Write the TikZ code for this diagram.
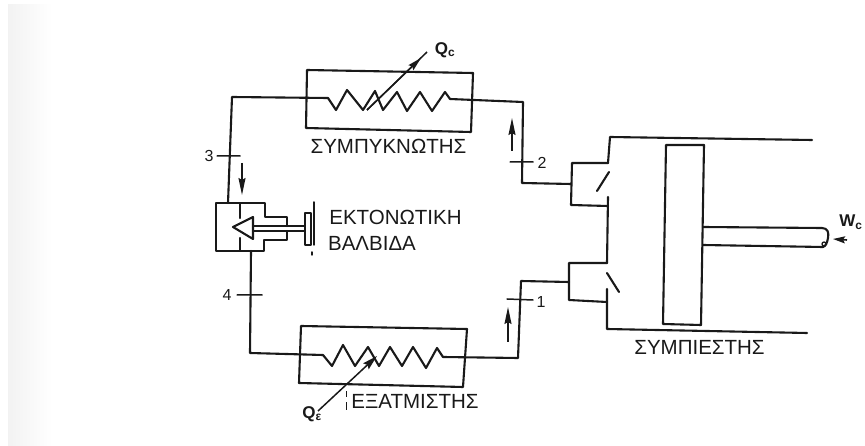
\documentclass[tikz,border=0pt]{standalone}
\usepackage{fontspec}
\setmainfont{Liberation Sans}
\usetikzlibrary{arrows.meta}
\tikzset{
  pipe/.style={draw=inkc,line width=2.1pt,line join=round,line cap=round},
  thin pipe/.style={draw=inkc,line width=1.5pt,line cap=round},
  flow/.style={draw=inkc,line width=1.6pt,-{Stealth[length=17pt,width=7pt,inset=2pt]}},
  heat/.style={draw=inkc,line width=1.5pt},
  caption/.style={inner sep=0pt,text=inkc,font=\fontsize{20.5}{24}\selectfont},
  num/.style={inner sep=0pt,text=inkc,font=\fontsize{16}{18}\selectfont},
  qlabel/.style={inner sep=0pt,text=inkc,font=\bfseries\fontsize{17}{20}\selectfont}
}
\definecolor{inkc}{gray}{0.1}
\begin{document}
\begin{tikzpicture}[x=1pt,y=-1pt]
\useasboundingbox (0,0) rectangle (865,446);
\shade[left color=black!5,right color=white] (8,5) rectangle (52,446);

% condenser
\coordinate (cin) at (450,99);
\coordinate (cout) at (328,98);
\draw[pipe] (307,70) -- (473,73) -- (471,132) -- (306,128) -- cycle;
\draw[pipe] (cout) -- (336,110) -- (347,90) -- (363,110) -- (375,91) -- (383,110) -- (397,92) -- (407,111) -- (420,92) -- (432,111) -- (445,92) -- (cin);
\node[caption] (condtxt) at (388.5,146) {ΣΥΜΠΥΚΝΩΤΗΣ};
\coordinate (qcs) at (367,110);
\coordinate (qce) at (427,52);
\draw[heat] (qcs) -- (qce);
\draw[heat,-{Stealth[length=14pt,width=7pt,inset=2pt]}] (qcs) -- (421,58);
\node[qlabel] (qc) at (445,50) {Q\textsubscript{c}};

% evaporator
\coordinate (ein) at (323,355);
\coordinate (eout) at (443,357);
\draw[pipe] (301,326) -- (467,329) -- (463,387) -- (299,383) -- cycle;
\draw[pipe] (ein) -- (332,366) -- (343,345) -- (355,366) -- (368,347) -- (379,366) -- (390,347) -- (402,366) -- (413,347) -- (426,368) -- (437,348) -- (eout);
\node[caption] (evaptxt) at (415,401) {ΕΞΑΤΜΙΣΤΗΣ};
\coordinate (qes) at (318,411);
\coordinate (qee) at (377,356);
\draw[heat,-{Stealth[length=15pt,width=8pt,inset=2pt]}] (qes) -- (qee);
\node[qlabel] (qe) at (312,414) {Q\textsubscript{ε}};
\coordinate (d1) at (346,391);
\coordinate (d2) at (346,397);
\coordinate (d3) at (346,402);
\coordinate (d4) at (346,410);
\draw[heat,line width=.9pt] (d1) -- (d2) (d3) -- (d4);

% expansion valve
\coordinate (vin) at (228,203);
\coordinate (vout) at (251,251);
\draw[pipe] (287,226) -- (287,217) -- (265,217) -- (265,203) -- (216,203) -- (216,251) -- (264,251) -- (264,240) -- (287,240) -- (287,231);
\draw[pipe] (240,204) -- (240,218) (240,238) -- (240,250);
\draw[pipe] (233,227) -- (253,217) -- (253,239) -- cycle;
\draw[thin pipe] (253,226) -- (305,226) (253,231) -- (305,231);
\draw[pipe] (305,213) -- (311,213) -- (311,245) -- (305,245) -- cycle;
\draw[thin pipe] (314,202) -- (314,245);
\draw[thin pipe] (312,252) -- (312,255);
\node[caption] (valve1) at (395.5,217) {ΕΚΤΟΝΩΤΙΚΗ};
\node[caption] (valve2) at (372,243) {ΒΑΛΒΙΔΑ};

% compressor
\coordinate (suc) at (569,282);
\coordinate (dis) at (571,184);
\draw[pipe] (608,163) -- (572,163) -- (571,205) -- (608,206);
\draw[pipe] (812,140) -- (610,137) -- (608,163);
\draw[pipe] (609,172) -- (597,191);
\draw[pipe] (608,197) -- (607,263);
\draw[pipe] (607,263) -- (569,263) -- (569,300) -- (607,302);
\draw[pipe] (607,273) -- (619,292);
\draw[pipe] (607,289) -- (607,329) -- (807,333);
\draw[pipe] (666,145) -- (704,145) -- (701,325) -- (663,324) -- cycle;
\draw[pipe] (703,227) -- (822,228) .. controls (828,228) and (829,233) .. (828,238) .. controls (827,243) and (826,246) .. (823,247) -- (703,245);
\node[draw=inkc,circle,line width=1.3pt,minimum size=4pt,inner sep=0pt] (pin) at (824,244) {};
\node[caption] (comptxt) at (699.5,347) {ΣΥΜΠΙΕΣΤΗΣ};
\coordinate (wt) at (847,240);
\coordinate (wh) at (833,239);
\draw[flow,-{Stealth[length=12pt,width=7pt,inset=2pt]}] (wt) -- (wh);
\node[qlabel] (wc) at (851,222) {W\textsubscript{c}};

% connecting pipes
\draw[pipe] (vin) -- (232,97) -- (cout);
\draw[pipe] (cin) -- (523,102) -- (522,183) -- (dis);
\draw[pipe] (vout) -- (250,353) -- (ein);
\draw[pipe] (eout) -- (518,358) -- (521,281) -- (suc);

% state points
\coordinate (t3a) at (217,156); \coordinate (t3b) at (240,156);
\coordinate (t2a) at (510,162); \coordinate (t2b) at (533,162);
\coordinate (t4a) at (237,295); \coordinate (t4b) at (262,295);
\coordinate (t1a) at (507,299); \coordinate (t1b) at (533,300);
\draw[thin pipe] (t3a) -- (t3b) (t2a) -- (t2b) (t4a) -- (t4b) (t1a) -- (t1b);
\node[num] (n3) at (209,156) {3};
\node[num] (n2) at (542,163) {2};
\node[num] (n4) at (227,295) {4};
\node[num] (n1) at (541,302) {1};

% flow arrows
\coordinate (a3a) at (242,163); \coordinate (a3b) at (242,195);
\coordinate (a2a) at (512,151); \coordinate (a2b) at (512,118);
\coordinate (a1a) at (508,342); \coordinate (a1b) at (508,307);
\draw[flow] (a3a) -- (a3b);
\draw[flow] (a2a) -- (a2b);
\draw[flow] (a1a) -- (a1b);
\end{tikzpicture}
\end{document}
